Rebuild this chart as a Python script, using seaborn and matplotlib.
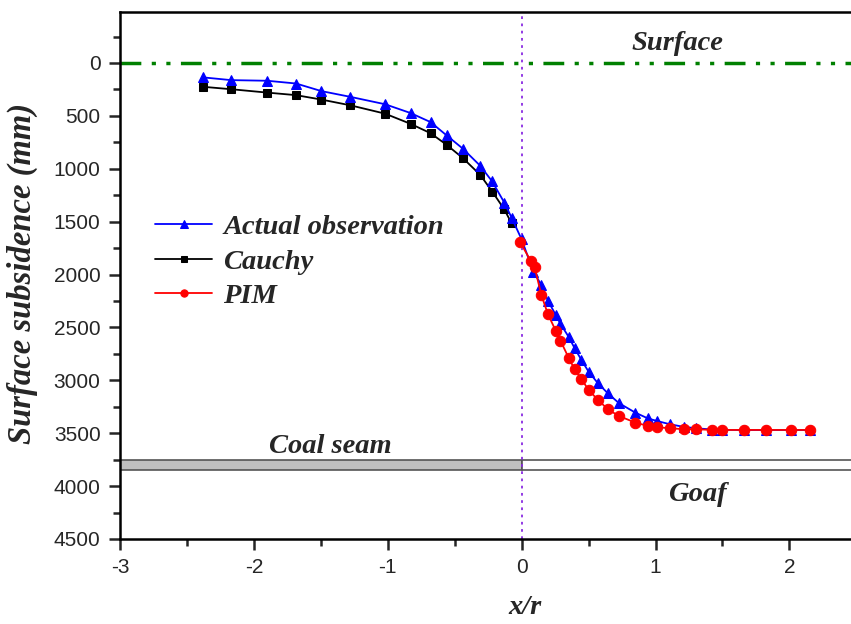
import numpy as np
import pandas as pd
import matplotlib
matplotlib.use("Agg")
import matplotlib.pyplot as plt
from matplotlib.patches import Rectangle
from matplotlib.ticker import MultipleLocator
import seaborn as sns

# actual observation (blue triangles)
obs_x = [-2.38, -2.17, -1.90, -1.685, -1.495, -1.28, -1.02, -0.83, -0.68, -0.56,
         -0.44, -0.31, -0.22, -0.13, -0.075, 0.0, 0.087, 0.147, 0.196, 0.254,
         0.29, 0.353, 0.396, 0.446, 0.50, 0.57, 0.644, 0.726, 0.85, 0.943,
         1.013, 1.107, 1.21, 1.30, 1.423, 1.498, 1.664, 1.828, 2.015, 2.157]
obs_y = [136, 162, 168, 194, 266, 320, 390, 473, 559, 685,
         809, 971, 1120, 1319, 1462, 1668, 1972, 2098, 2246, 2381,
         2466, 2593, 2697, 2807, 2918, 3028, 3123, 3215, 3306, 3360,
         3385, 3415, 3440, 3453, 3465, 3468, 3470, 3470, 3470, 3470]

# Cauchy (black squares)
cauchy_x = [-2.38, -2.17, -1.90, -1.685, -1.495, -1.28, -1.02, -0.83, -0.68, -0.56,
            -0.44, -0.31, -0.22, -0.13, -0.075]
cauchy_y = [225, 248, 280, 304, 346, 400, 479, 575, 664, 774,
            898, 1057, 1215, 1383, 1516]

# PIM (red circles)
pim_x = [-0.01, 0.067, 0.097, 0.147, 0.196, 0.254, 0.29, 0.353, 0.396, 0.446,
         0.50, 0.57, 0.644, 0.726, 0.85, 0.943, 1.013, 1.107, 1.21, 1.30,
         1.423, 1.498, 1.664, 1.828, 2.015, 2.157]
pim_y = [1697, 1868, 1931, 2193, 2373, 2530, 2625, 2792, 2896, 2987,
         3091, 3185, 3274, 3337, 3400, 3431, 3443, 3453, 3462, 3462,
         3469, 3469, 3469, 3469, 3469, 3469]

sns.set_style("ticks")
plt.rcParams['font.family'] = ['Liberation Sans', 'DejaVu Sans']
plt.rcParams['axes.unicode_minus'] = False
serif_bi = dict(family='Liberation Serif', weight='bold', style='italic')

fig = plt.figure(figsize=(8.51, 6.24), dpi=100)
ax = fig.add_axes([120/851, 85/624, 731/851, 527/624])

# coal seam / goaf bars
ax.add_patch(Rectangle((-3, 3750), 3, 100, facecolor='#c0c0c0', edgecolor='#555555',
                       linewidth=1.2, zorder=1))
ax.add_patch(Rectangle((0, 3750), 3, 100, facecolor='white', edgecolor='#555555',
                       linewidth=1.2, zorder=1))

# surface line and x/r = 0
ax.axhline(0, color='#008000', linewidth=2.5, dashes=(6, 3, 1.2, 3, 1.2, 3), zorder=2)
ax.axvline(0, color='#8a2be2', linewidth=1.3, linestyle=(0, (1.5, 2.5)), zorder=2)

sns.lineplot(x=obs_x, y=obs_y, ax=ax, color='blue', marker='^', markersize=7.5,
             markeredgecolor='blue', linewidth=1.3, label='Actual observation',
             sort=False, zorder=4)
sns.lineplot(x=cauchy_x, y=cauchy_y, ax=ax, color='black', marker='s', markersize=6,
             markeredgecolor='black', linewidth=1.3, label='Cauchy', sort=False, zorder=3)
sns.lineplot(x=pim_x, y=pim_y, ax=ax, color='red', marker='o', markersize=7.5,
             markeredgecolor='red', linewidth=1.3, label='PIM', sort=False, zorder=5)

ax.set_xlim(-3, 2.46)
ax.set_ylim(4500, -482)
ax.xaxis.set_major_locator(MultipleLocator(1))
ax.xaxis.set_minor_locator(MultipleLocator(0.5))
ax.yaxis.set_major_locator(MultipleLocator(500))
ax.yaxis.set_minor_locator(MultipleLocator(250))
ax.set_yticks([0, 500, 1000, 1500, 2000, 2500, 3000, 3500, 4000, 4500])
ax.tick_params(which='major', direction='out', length=8, width=1.8, labelsize=15, pad=6)
ax.tick_params(which='minor', direction='out', length=5, width=1.8)
for side in ['left', 'bottom', 'top']:
    ax.spines[side].set_linewidth(1.8)
    ax.spines[side].set_color('black')
ax.spines['right'].set_visible(False)

ax.text(1.16, -180, 'Surface', ha='center', va='center', fontsize=20.5, **serif_bi)
ax.text(-1.43, 3630, 'Coal seam', ha='center', va='center', fontsize=20.5, **serif_bi)
ax.text(1.31, 4080, 'Goaf', ha='center', va='center', fontsize=20.5, **serif_bi)

ax.set_xlabel('x/r', fontsize=20.5, **serif_bi)
ax.xaxis.set_label_coords((525 - 120) / 731, -(607 - 539) / 527)
ax.xaxis.label.set_va('center')
ax.set_ylabel('Surface subsidence (mm)', fontsize=23.5, **serif_bi)
ax.yaxis.set_label_coords(-(120 - 22) / 731, (539 - 273) / 527)
ax.yaxis.label.set_va('center')

leg = ax.legend(loc='upper left', bbox_to_anchor=(0.013, 0.665), frameon=False,
                prop=dict(family='Liberation Serif', weight='bold', style='italic', size=20.5),
                handlelength=2.0, handletextpad=0.4, labelspacing=0.3, markerscale=0.7)

fig.savefig('out.png', dpi=100)
